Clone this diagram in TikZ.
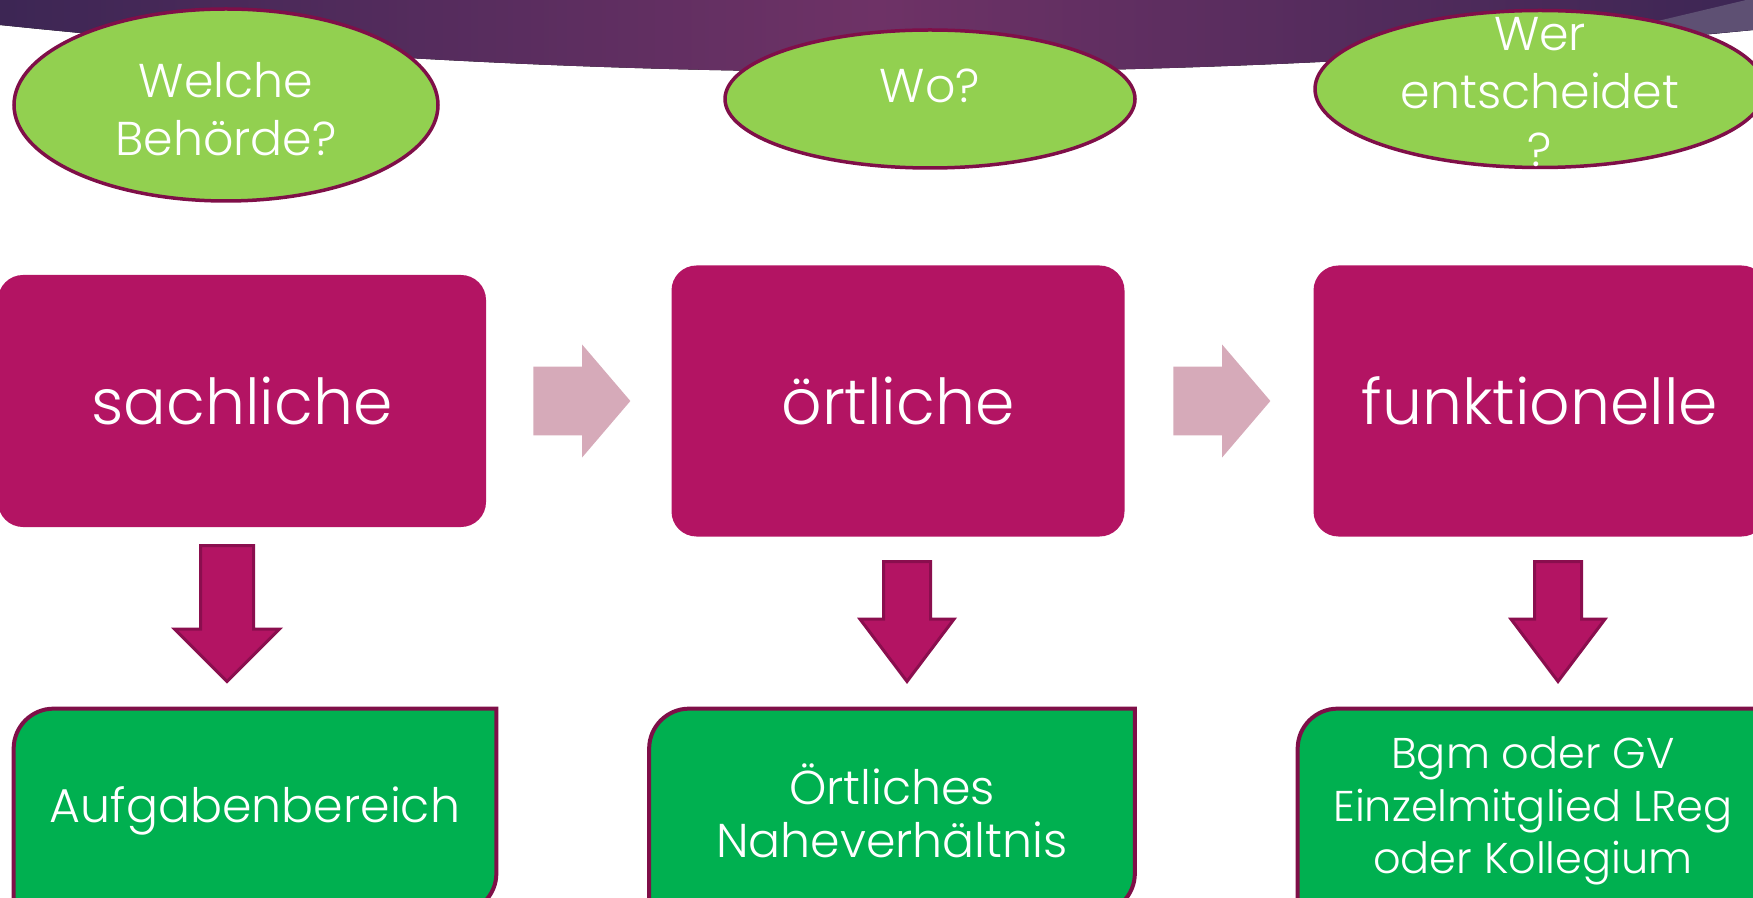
\documentclass[tikz,border=0pt]{standalone}
\usepackage{fontspec}
\setmainfont{Poppins Light}
\usetikzlibrary{shapes.geometric,shapes.arrows,backgrounds}

\definecolor{bandark}{HTML}{3C2654}
\definecolor{banmid}{HTML}{6E3266}
\definecolor{banlight}{HTML}{5E5073}
\definecolor{magbox}{HTML}{B31463}
\definecolor{rim}{HTML}{7F0F48}
\definecolor{darkrim}{HTML}{8A0E4E}
\definecolor{lgreen}{HTML}{92D050}
\definecolor{dgreen}{HTML}{00B050}
\definecolor{pinkarrow}{HTML}{D6AAB9}

\begin{document}
\begin{tikzpicture}[x=0.2mm, y=-0.2mm,
  frage/.style={ellipse, draw=rim, line width=0.7mm, fill=lgreen, inner sep=0pt},
  fragetext/.style={text=white, align=center, font=\fontsize{27}{33}\selectfont},
  magbox/.style={rectangle, rounded corners=5mm, fill=magbox, text=white, inner sep=0pt, font=\fontsize{36}{40}\selectfont},
  antwort/.style={rectangle, text=white, align=center, inner sep=0pt, font=\fontsize{27}{30}\selectfont},
  gruenrahmen/.style={fill=dgreen, draw=rim, line width=0.8mm},
  weiter/.style={single arrow, fill=pinkarrow, inner xsep=0pt, inner ysep=6.8mm, anchor=tail, minimum height=19.4mm, single arrow head extend=4.4mm, single arrow tip angle=99},
  runter/.style={single arrow, fill=magbox, draw=darkrim, line width=0.6mm, inner xsep=0pt, anchor=tail, rotate=-90}]
\useasboundingbox (0,0) rectangle (1753,898);

% banner at the top
\fill[left color=bandark, right color=bandark, middle color=banmid] (-10,-10) -- (-10,25) -- (0,25) .. controls (584,86) and (1169,88) .. (1753,30) -- (1763,29) -- (1763,-10) -- cycle;
\fill[banlight] (1540,49) -- (1763,-4) -- (1763,29) -- cycle;

% questions
\node[frage, minimum width=84.8mm, minimum height=38.4mm, label={[fragetext, yshift=-0.8mm]center:Welche\\Behörde?}] (welche) at (226,105) {};
\node[frage, minimum width=82mm, minimum height=27.6mm, label={[fragetext, yshift=2.6mm]center:Wo?}] (wo) at (930,99) {};
\node[frage, minimum width=90mm, minimum height=31.4mm, label={[fragetext, yshift=-0.6mm]center:Wer\\entscheidet\\?}] (wer) at (1540,89) {};

% kinds of competence
\node[magbox, minimum width=97.6mm, minimum height=50.4mm] (sach) at (242,401) {sachliche};
\node[magbox, minimum width=90.6mm, minimum height=54.2mm] (oert) at (898,401) {örtliche};
\node[magbox, minimum width=90.6mm, minimum height=54.2mm] (funk) at (1540,401) {funktionelle};

\node[weiter] (weiter1) at (533,401) {};
\node[weiter] (weiter2) at (1173,401) {};

\node[runter, inner ysep=5mm, minimum height=27.2mm, single arrow head extend=5.2mm, single arrow tip angle=90] (runter1) at (227,544) {};
\node[runter, inner ysep=4.4mm, minimum height=24mm, single arrow head extend=4.7mm, single arrow tip angle=74] (runter2) at (907,560) {};
\node[runter, inner ysep=4.4mm, minimum height=24mm, single arrow head extend=4.7mm, single arrow tip angle=74] (runter3) at (1558,560) {};

% answers
\node[antwort, minimum width=96.4mm, minimum height=40.8mm] (aufg) at (255,811) {Aufgabenbereich};
\node[antwort, minimum width=97mm, minimum height=40.8mm] (naehe) at (892,811) {Örtliches\\Naheverhältnis};
\node[antwort, minimum width=94mm, minimum height=40.8mm, font=\fontsize{24.5}{30}\selectfont] (kolleg) at (1533,811) {Bgm oder GV\\Einzelmitglied LReg\\oder Kollegium};

\begin{scope}[on background layer]
\foreach \n in {aufg,naehe,kolleg}
  \draw[gruenrahmen] (\n.north east) -- ([xshift=8mm]\n.north west) arc[start angle=90, end angle=180, radius=8mm] -- (\n.south west) -- ([xshift=-8mm]\n.south east) arc[start angle=270, end angle=360, radius=8mm] -- cycle;
\end{scope}
\end{tikzpicture}
\end{document}
